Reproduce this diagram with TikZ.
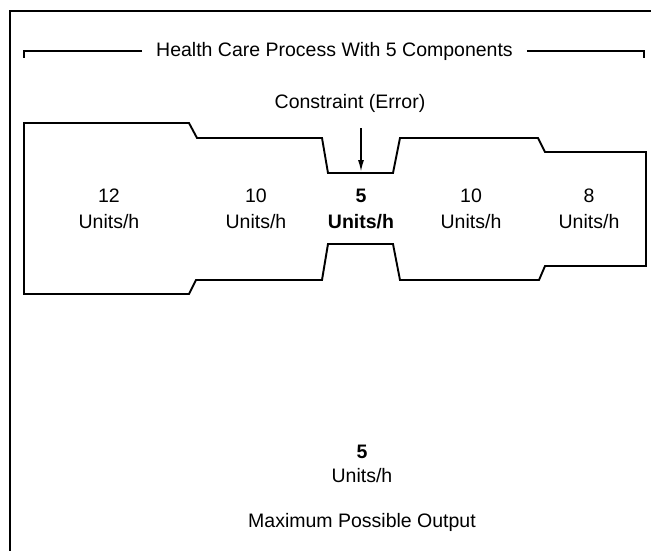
\documentclass[tikz,border=0pt]{standalone}
\usepackage{fontspec}
\setmainfont{Liberation Sans}
\usetikzlibrary{arrows.meta,positioning,calc}

\begin{document}
\begin{tikzpicture}[x=1pt, y=-1pt,
  frame/.style={draw=black, line width=1.8pt},
  pipe/.style={draw=black, line width=1.9pt, line join=miter},
  arr/.style={-{Latex[length=12pt, width=6pt]}, line width=1.6pt},
  txt/.style={font=\fontsize{19.5}{26}\selectfont, align=center, inner sep=0pt},
  rate/.style={txt},
  ttl/.style={txt, inner xsep=14pt}]
\useasboundingbox (0,0) rectangle (651,551);

% outer frame of the scanned page (top and left only)
\draw[frame] (10,551) -- (10,11) -- (651,11);

% title with bracket
\node[ttl] (title) at (334.5,51) {Health Care Process With 5 Components};
\coordinate (brl) at (24,51);
\coordinate (brr) at (644,51);
\draw[frame] (title.west) -- (brl) -- ++(0,7);
\draw[frame] (title.east) -- (brr) -- ++(0,7);

% the process as a pipe of five components
\draw[pipe] (24,123) -- (189,123) -- (197,138) -- (322,138) -- (328,173)
  -- (393,173) -- (400,138) -- (538,138) -- (545,152) -- (646,152)
  -- (646,266) -- (545,266) -- (539,280) -- (400,280) -- (393,244)
  -- (328,244) -- (322,280) -- (196,280) -- (189,294) -- (24,294) -- cycle;

\foreach \x/\r/\n in {109/12/a, 256/10/b, 471/10/d, 589/8/e}{
  \node[rate] (r\n) at (\x,209) {\r\\Units/h};}
\node[rate, font=\fontsize{19.5}{26}\selectfont\bfseries] (rc) at (361,209) {5\\Units/h};

% constraint
\node[txt] (cons) at (350,103) {Constraint (Error)};
\coordinate (arrtop) at (361,128);
\coordinate (arrtip) at (361,172);
\draw[arr] (arrtop) -- (arrtip);

% output
\node[txt] (out) at (362,464) {{\bfseries 5}\\[-2pt]Units/h};
\node[txt] (maxout) at (362,522) {Maximum Possible Output};
\end{tikzpicture}
\end{document}
